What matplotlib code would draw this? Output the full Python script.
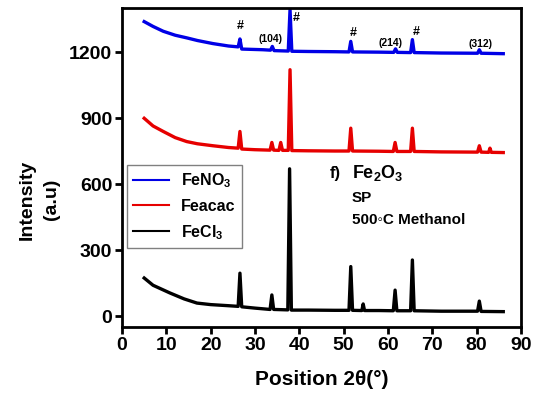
import matplotlib
matplotlib.use('Agg')
import matplotlib.pyplot as plt

plt.rcParams['font.family'] = ['Liberation Sans', 'DejaVu Sans']
plt.rcParams['font.weight'] = 'bold'
plt.rcParams['mathtext.fontset'] = 'custom'
plt.rcParams['mathtext.rm'] = 'Liberation Sans:bold'
plt.rcParams['mathtext.it'] = 'Liberation Sans:bold'
plt.rcParams['mathtext.bf'] = 'Liberation Sans:bold'

# XRD patterns (2theta in degrees, intensity in a.u.)
black_x = [5, 7, 10.8, 14, 16.9, 20, 24, 26.2, 26.6, 27.0, 30, 33.4, 33.8, 34.2, 37.4, 37.8, 38.2,
           42, 48, 51.2, 51.6, 52.0, 54.1, 54.4, 54.7, 58, 61.2, 61.6, 62.0, 65.1, 65.5, 65.9,
           72, 80.2, 80.6, 81.0, 86]
black_y = [173, 140, 105, 78, 59, 52, 47, 44, 195, 42, 36, 30, 96, 30, 28, 670, 27,
           27, 26, 26, 225, 26, 25, 55, 25, 25, 24, 118, 24, 24, 255, 24,
           22, 22, 68, 21, 20]

red_x = [5, 7, 9.3, 12, 14.6, 17, 20.5, 24, 26.2, 26.6, 27.0, 30, 33.4, 33.8, 34.2, 35.4, 35.8, 36.2,
         37.5, 37.9, 38.3, 42, 48, 51.2, 51.6, 52.0, 58, 61.2, 61.6, 62.0, 65.1, 65.5, 65.9,
         72, 80.2, 80.6, 81.0, 82.7, 83.0, 83.3, 86]
red_y = [900, 865, 840, 812, 794, 784, 775, 767, 764, 840, 760, 757, 755, 790, 755, 754, 790, 754,
         754, 1121, 753, 752, 751, 751, 855, 751, 750, 749, 790, 749, 749, 855, 749,
         747, 746, 775, 746, 745, 764, 745, 744]

blue_x = [5, 7, 9.3, 12, 14.6, 17, 20.5, 24, 26.2, 26.6, 27.0, 31.8, 33.5, 33.9, 34.3,
          37.5, 37.9, 38.3, 42, 48, 51.2, 51.6, 52.0, 58, 61.3, 61.7, 62.1, 65.1, 65.5, 65.9,
          72, 80.2, 80.6, 81.0, 86]
blue_y = [1340, 1318, 1296, 1278, 1266, 1254, 1240, 1229, 1225, 1261, 1215, 1212, 1210, 1227, 1208,
          1206, 1395, 1205, 1204, 1203, 1202, 1250, 1202, 1201, 1200, 1216, 1200, 1199, 1258, 1199,
          1197, 1196, 1212, 1196, 1194]

# peak markers on the top pattern
peak_labels = ['#', '(104)', '#', '#', '(214)', '#', '(312)']
peak_x = [26.6, 33.4, 39.2, 52.2, 60.5, 66.3, 80.8]
peak_y = [1318, 1261, 1357, 1288, 1243, 1291, 1240]

fig = plt.figure(figsize=(5.38, 4.01), dpi=100)
ax = fig.add_axes([0.2268, 0.1845, 0.7416, 0.7945])

ax.plot(blue_x, blue_y, color='#0000e6', lw=2.4, label=r'$\mathregular{FeNO_3}$')
ax.plot(red_x, red_y, color='#e60000', lw=2.4, label='Feacac')
ax.plot(black_x, black_y, color='black', lw=2.4, label=r'$\mathregular{FeCl_3}$')

for lab, px, py in zip(peak_labels, peak_x, peak_y):
    fs = 9 if lab == '#' else 7.5
    ax.text(px, py, lab, ha='center', va='center', fontsize=fs, fontweight='bold')

ax.text(46.9, 650, 'f)', fontsize=12, fontweight='bold', va='center')
ax.text(51.8, 650, r'$\mathregular{Fe_2O_3}$', fontsize=13, fontweight='bold', va='center')
ax.text(51.8, 536, 'SP', fontsize=11, fontweight='bold', va='center')
ax.text(51.8, 438, '500\u25e6C Methanol', fontsize=11, fontweight='bold', va='center',
        family=['Liberation Sans', 'DejaVu Sans'])

ax.set_xlim(0, 90)
ax.set_ylim(-50, 1400)
ax.set_xticks(range(0, 91, 10))
ax.set_yticks([0, 300, 600, 900, 1200])
ax.tick_params(direction='out', length=5, width=2, labelsize=14, pad=2)
for lbl in ax.get_xticklabels() + ax.get_yticklabels():
    lbl.set_fontweight('bold')
for s in ax.spines.values():
    s.set_linewidth(2)

ax.set_xlabel('Position 2\u03b8(\u00b0)', fontsize=15, fontweight='bold', labelpad=12)
ax.set_ylabel('Intensity\n(a.u)', fontsize=14, fontweight='bold', linespacing=1.6)
ax.yaxis.set_label_coords(-0.155, 0.40)

leg = ax.legend(loc='upper left', bbox_to_anchor=(0.0125, 0.508), fontsize=11.5,
                handlelength=2.2, fancybox=False, framealpha=1, borderaxespad=0,
                labelspacing=0.55, handletextpad=0.8, borderpad=0.4)
leg.get_frame().set_edgecolor('gray')
leg.get_frame().set_linewidth(1)
for t in leg.get_texts():
    t.set_fontweight('bold')
for h in leg.legend_handles:
    h.set_linewidth(1.5)

fig.savefig('out.png', dpi=100)
